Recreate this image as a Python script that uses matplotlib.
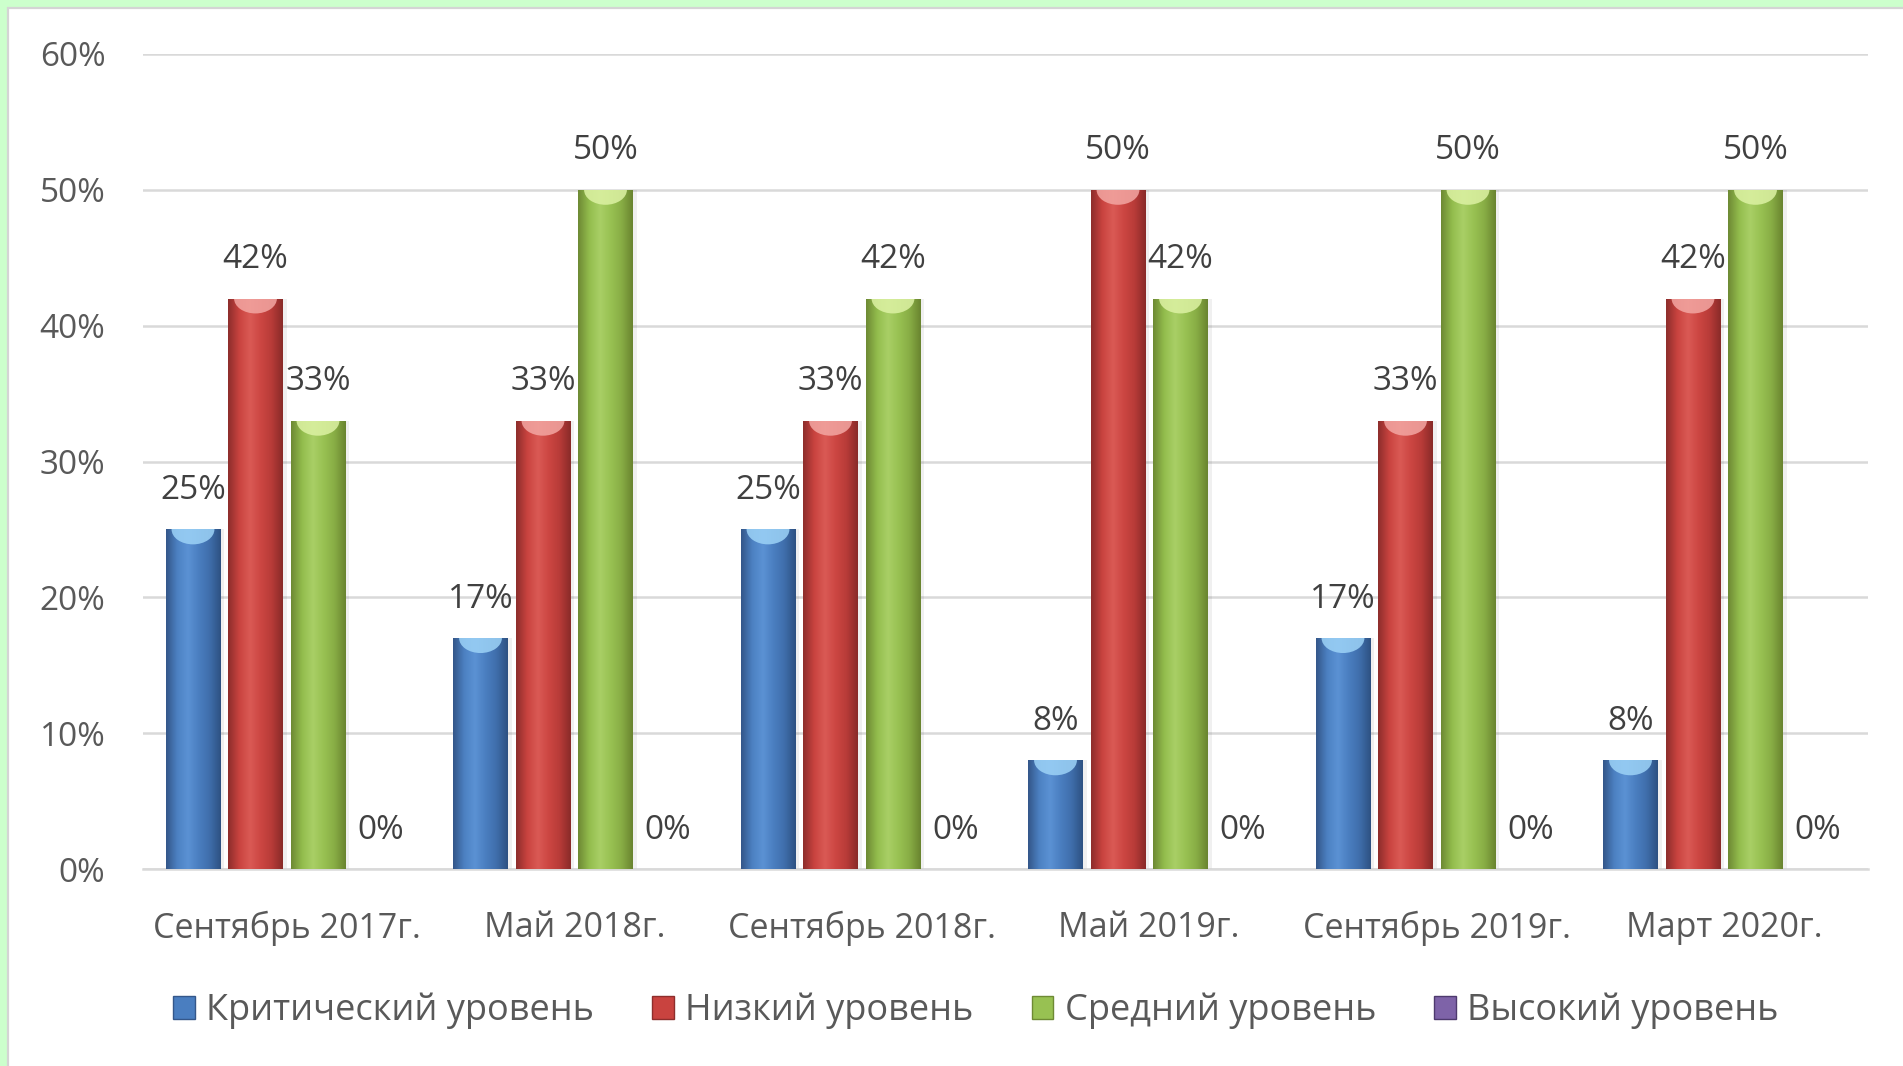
import matplotlib
matplotlib.use("Agg")
import matplotlib.pyplot as plt
import numpy as np
from matplotlib.colors import LinearSegmentedColormap
from matplotlib.patches import Rectangle, Ellipse

plt.rcParams['font.family'] = ['Open Sans', 'DejaVu Sans']

categories = ["Сентябрь 2017г.", "Май 2018г.", "Сентябрь 2018г.",
              "Май 2019г.", "Сентябрь 2019г.", "Март 2020г."]
series_names = ["Критический уровень", "Низкий уровень",
                "Средний уровень", "Высокий уровень"]
critical = [25, 17, 25, 8, 17, 8]
low = [42, 33, 33, 50, 33, 42]
medium = [33, 50, 42, 42, 50, 50]
high = [0, 0, 0, 0, 0, 0]
series_values = [critical, low, medium, high]
y_ticks = [0, 10, 20, 30, 40, 50, 60]

base_colors = ["#4A7EC0", "#C9433F", "#98C152", "#7E63A8"]
grad_stops = [
    ["#34578A", "#4C81C2", "#5B92D4", "#4A7EC0", "#3F6EAB", "#2E5283"],
    ["#8E2E2C", "#C9433F", "#DA5A55", "#CC4642", "#B83B38", "#8A2B29"],
    ["#6E8A34", "#93BD4D", "#A9CF66", "#98C152", "#88AD45", "#6A8530"],
    ["#4E3A6E", "#7E63A8", "#9479BE", "#7E63A8", "#6C5296", "#4A366A"],
]
cap_colors = ["#9DD3F7", "#F3A7A3", "#DDF2A4", "#D2BFF0"]

W, H = 1903, 1066
fig = plt.figure(figsize=(W / 100, H / 100), dpi=100)
fig.patch.set_facecolor("#CCFFCC")
fig.add_artist(Rectangle((8 / W, -0.01), 1.02, (H - 8) / H + 0.01,
                         transform=fig.transFigure, facecolor="white",
                         edgecolor="#D4D4D4", lw=1.6, zorder=0))

ax = fig.add_axes([143 / W, (H - 869) / H, (1868 - 143) / W, (869 - 54) / H])
ax.set_facecolor("none")

x = np.arange(len(categories))
step = 0.2174
bw = 0.191
offsets = (np.arange(4) - 1.5) * step

grad = np.linspace(0, 1, 64).reshape(1, -1)
for i, vals in enumerate(series_values):
    pos = x + offsets[i]
    # soft shadow
    ax.bar(pos + 0.008, vals, width=bw + 0.012, color="black", alpha=0.06,
           zorder=2, linewidth=0)
    bars = ax.bar(pos, vals, width=bw, color=base_colors[i], zorder=3,
                  linewidth=0, label=series_names[i])
    cmap = LinearSegmentedColormap.from_list("g%d" % i, grad_stops[i])
    for b in bars:
        h = b.get_height()
        if h <= 0:
            continue
        bx = b.get_x()
        im = ax.imshow(grad, extent=[bx, bx + bw, 0, h], aspect="auto",
                       cmap=cmap, zorder=4, interpolation="bicubic")
        im.set_clip_path(b)
        cap = Ellipse((bx + bw / 2, h), bw * 0.78, 2.2, facecolor=cap_colors[i],
                      edgecolor="none", alpha=0.85, zorder=5)
        ax.add_patch(cap)
        cap.set_clip_path(b)
    for px, v in zip(pos, vals):
        ax.annotate(f"{v}%", (px, v), xytext=(0, 28), textcoords="offset points",
                    ha="center", va="center", fontsize=24, color="#404040",
                    zorder=6)

ax.set_xlim(-0.5, len(categories) - 0.5)
ax.set_ylim(0, 60)
ax.set_yticks(y_ticks)
ax.set_yticklabels([f"{t}%" for t in y_ticks])
ax.set_xticks(x)
ax.set_xticklabels(categories)
ax.tick_params(axis="y", length=0, pad=27, labelsize=24, labelcolor="#595959")
ax.tick_params(axis="x", length=0, pad=30, labelsize=24.5, labelcolor="#595959")
ax.grid(axis="y", color="#D9D9D9", lw=1.8, zorder=1)
ax.set_axisbelow(True)
for s in ["top", "right", "left"]:
    ax.spines[s].set_visible(False)
ax.spines["bottom"].set_color("#D9D9D9")
ax.spines["bottom"].set_linewidth(1.8)

handles = [Rectangle((0, 0), 1, 1, facecolor=base_colors[i],
                     edgecolor=grad_stops[i][0], lw=1) for i in range(4)]
fig.legend(handles, series_names, loc="center", ncol=4,
           bbox_to_anchor=(976 / W, 1 - 1011 / H), frameon=False,
           fontsize=26, labelcolor="#595959", handlelength=0.6,
           handleheight=0.6, handletextpad=0.32, columnspacing=1.6)

fig.savefig("out.png", dpi=100, facecolor=fig.get_facecolor())
